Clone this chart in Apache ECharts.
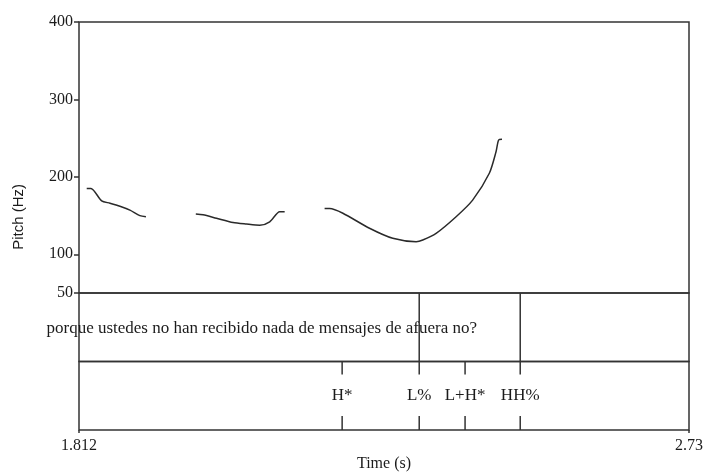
<!DOCTYPE html>
<html>
<head>
<meta charset="utf-8">
<script src="https://cdn.jsdelivr.net/npm/echarts@6/dist/echarts.min.js"></script>
<style>html,body{margin:0;padding:0;background:#fff}#c{width:705px;height:472px}</style>
</head>
<body>
<div id="c"></div>
<script>
// ---- data ----
const timeRange = [1.812, 2.73];
const pitchRange = [50, 400];
const pitchTicks = [50, 100, 200, 300, 400];
const timeTicks = [1.812, 2.73];
const pitchSeg1 = [[1.8236,185],[1.830,185],[1.8461,169],[1.8586,166],[1.8736,162],[1.8886,157],[1.9036,150],[1.9127,148.5]];
const pitchSeg2 = [[1.9878,152],[1.9987,151],[2.0189,146.5],[2.0438,141],[2.0640,139],[2.0839,137.5],[2.0990,142],[2.1140,155],[2.1215,155]];
const pitchSeg3 = [[2.1816,159],[2.1891,159],[2.2091,153],[2.2492,133.6],[2.2842,120.6],[2.3194,116.3],[2.3293,118.4],[2.3494,127],[2.3795,148.5],[2.4044,170],[2.4295,204.6],[2.4396,232.5],[2.4435,247.6],[2.4486,248.5]];
const wordBoundaries = [2.324, 2.476];
const wordLabels = [[2.087, 'porque ustedes no han recibido nada de mensajes de afuera no?']];
const toneTimes = [2.208, 2.324, 2.393, 2.476];
const toneLabels = ['H*', 'L%', 'L+H*', 'HH%'];

// ---- chart ----
const chart = echarts.init(document.getElementById('c'), null, {renderer: 'canvas'});
const serif = 'Liberation Serif';
const ink = '#1b1b1b';
const border = {show: true, borderColor: '#333', borderWidth: 1.5, backgroundColor: 'transparent',
  containLabel: false, outerBoundsMode: 'none'};
const L = 79, W = 610;

const option = {
  animation: false,
  backgroundColor: '#fff',
  grid: [
    Object.assign({left: L, top: 22, width: W, height: 271}, border),
    Object.assign({left: L, top: 293, width: W, height: 68.5}, border),
    Object.assign({left: L, top: 361.5, width: W, height: 68.5}, border)
  ],
  xAxis: [
    {type: 'value', gridIndex: 0, min: timeRange[0], max: timeRange[1], show: false},
    {type: 'value', gridIndex: 1, min: timeRange[0], max: timeRange[1], show: false},
    {type: 'value', gridIndex: 2, min: timeRange[0], max: timeRange[1],
      axisLine: {show: false}, splitLine: {show: false},
      axisTick: {show: true, length: 3, customValues: timeTicks, lineStyle: {color: '#333', width: 1.5}},
      axisLabel: {customValues: timeTicks, formatter: v => String(+v.toFixed(3)), color: ink,
        fontFamily: serif, fontSize: 16, margin: 8, showMinLabel: true, showMaxLabel: true},
      name: 'Time (s)', nameLocation: 'middle', nameGap: 26,
      nameTextStyle: {fontFamily: serif, fontSize: 16, color: ink}}
  ],
  yAxis: [
    {type: 'value', gridIndex: 0, min: pitchRange[0], max: pitchRange[1],
      axisLine: {show: false}, splitLine: {show: false},
      axisTick: {show: true, length: 5, customValues: pitchTicks, lineStyle: {color: '#333', width: 1.5}},
      axisLabel: {customValues: pitchTicks, color: ink, fontFamily: serif, fontSize: 16, margin: 6,
        showMinLabel: true, showMaxLabel: true}},
    {type: 'value', gridIndex: 1, min: 0, max: 1, show: false},
    {type: 'value', gridIndex: 2, min: 0, max: 1, show: false}
  ],
  graphic: [{
    type: 'text', left: 11, top: 184, rotation: Math.PI / 2,
    style: {text: 'Pitch (Hz)', font: '15px "Liberation Sans"', fill: ink}
  }],
  series: [
    ...[pitchSeg1, pitchSeg2, pitchSeg3].map(seg => ({
      type: 'line', xAxisIndex: 0, yAxisIndex: 0, data: seg, showSymbol: false,
      smooth: 0.25, silent: true,
      lineStyle: {color: '#2a2a2a', width: 1.5}
    })),
    {
      type: 'custom', xAxisIndex: 1, yAxisIndex: 1, silent: true,
      data: wordBoundaries.map(t => [t]),
      renderItem: (params, api) => {
        const p0 = api.coord([api.value(0), 0]);
        const p1 = api.coord([api.value(0), 1]);
        return {type: 'line', shape: {x1: p0[0], y1: p0[1], x2: p1[0], y2: p1[1]},
          style: {stroke: '#333', lineWidth: 1.5}};
      }
    },
    {
      type: 'custom', xAxisIndex: 1, yAxisIndex: 1, silent: true,
      data: wordLabels.map(d => [d[0], 0.5]),
      renderItem: (params, api) => {
        const p = api.coord([api.value(0), api.value(1)]);
        return {type: 'text', x: p[0], y: p[1] + 1,
          style: {text: wordLabels[params.dataIndex][1], font: '17px "Liberation Serif"', fill: ink,
            align: 'center', verticalAlign: 'middle'}};
      }
    },
    {
      type: 'custom', xAxisIndex: 2, yAxisIndex: 2, silent: true,
      data: toneTimes.map(t => [t, 0.5]),
      renderItem: (params, api) => {
        const top = api.coord([api.value(0), 1]);
        const bot = api.coord([api.value(0), 0]);
        const mid = api.coord([api.value(0), api.value(1)]);
        const x = top[0];
        return {type: 'group', children: [
          {type: 'line', shape: {x1: x, y1: top[1], x2: x, y2: top[1] + 13}, style: {stroke: '#333', lineWidth: 1.5}},
          {type: 'line', shape: {x1: x, y1: bot[1], x2: x, y2: bot[1] - 14}, style: {stroke: '#333', lineWidth: 1.5}},
          {type: 'text', x: x, y: mid[1],
            style: {text: toneLabels[params.dataIndex], font: '17px "Liberation Serif"', fill: ink,
              align: 'center', verticalAlign: 'middle'}}
        ]};
      }
    }
  ]
};
chart.setOption(option);
</script>
</body>
</html>
